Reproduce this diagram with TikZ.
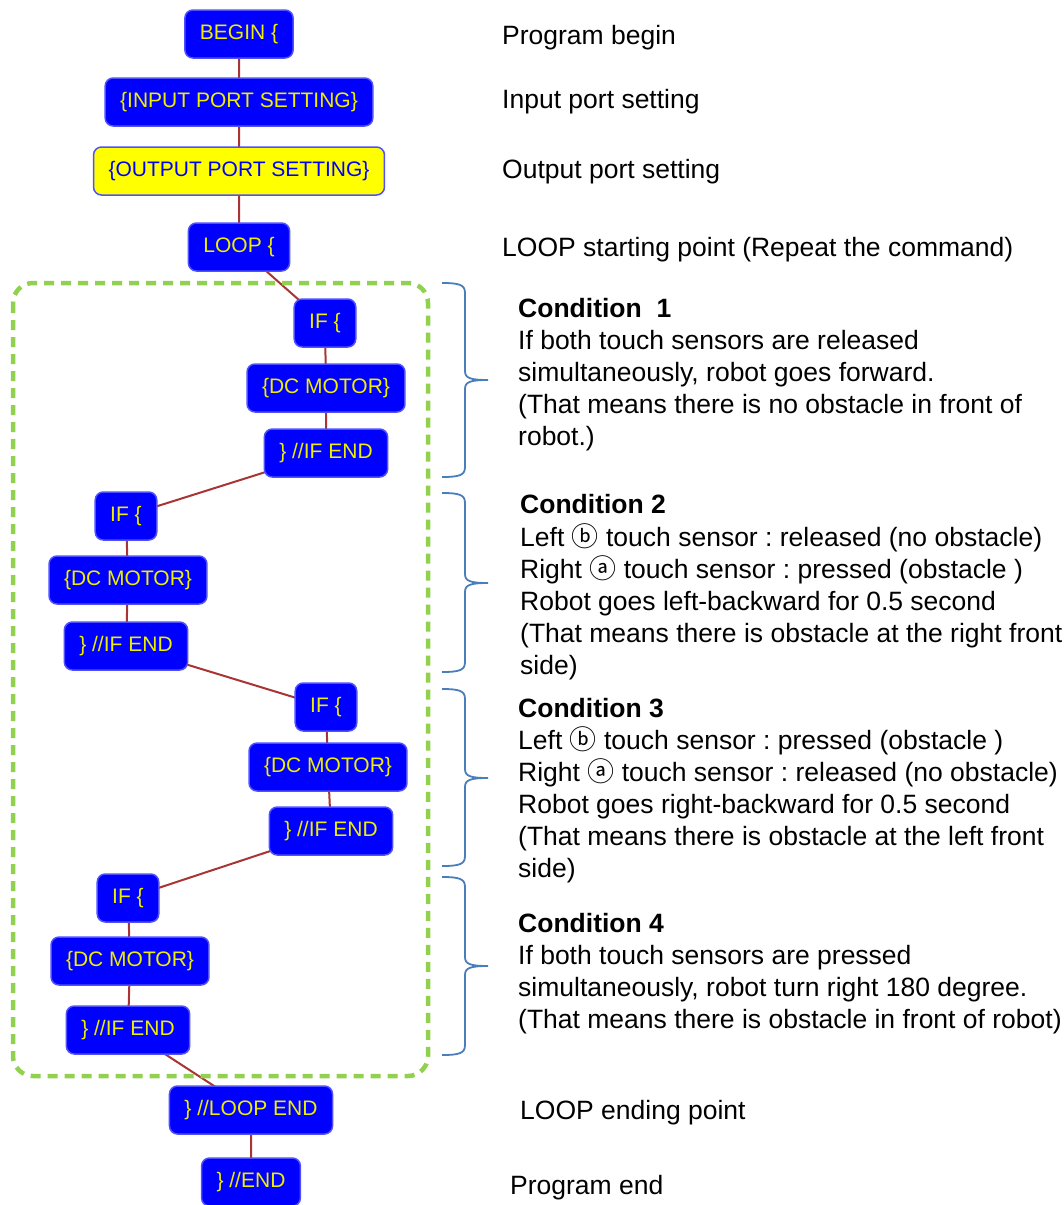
\documentclass[tikz,border=0pt]{standalone}
\usepackage{fontspec}
\setmainfont{Liberation Sans}
\newfontfamily\circfont{Noto Sans CJK JP}
\frenchspacing

\definecolor{boxblue}{RGB}{0,0,255}
\definecolor{boxedge}{RGB}{80,80,255}
\definecolor{codeyellow}{RGB}{238,238,0}
\definecolor{setyellow}{RGB}{255,255,0}
\definecolor{linkred}{RGB}{168,52,52}
\definecolor{loopgreen}{RGB}{146,208,80}
\definecolor{bracketblue}{RGB}{74,126,187}

\pgfdeclarelayer{bg}
\pgfsetlayers{bg,main}

\tikzset{
  block/.style={draw=boxedge, line width=1.5pt, fill=boxblue, rounded corners=8pt,
    text=codeyellow, font=\fontsize{21}{24}\selectfont,
    minimum height=48pt, inner xsep=15pt, inner ysep=0pt},
  setblock/.style={block, fill=setyellow, draw=boxedge, text=boxblue},
  link/.style={draw=linkred, line width=2pt},
  note/.style={anchor=base west, inner sep=0pt, font=\fontsize{26.5}{32}\selectfont},
  notehead/.style={note, font=\fontsize{26.5}{32}\selectfont\bfseries},
  bracket/.style={draw=bracketblue, line width=1.8pt},
  loopframe/.style={draw=loopgreen, line width=4.5pt, dash pattern=on 10pt off 7pt,
    rounded corners=20pt},
}
\newcommand{\circb}{{\circfont\fontsize{27}{32}\selectfont ⓑ}}
\newcommand{\circa}{{\circfont\fontsize{27}{32}\selectfont ⓐ}}

\begin{document}
\begin{tikzpicture}[x=1pt,y=-1pt]
\useasboundingbox (0,0) rectangle (1064,1205);

% program blocks
\node[block]    (begin)  at (239,34)   {BEGIN \{};
\node[block]    (inport) at (239,102)  {\{INPUT PORT SETTING\}};
\node[setblock] (outport) at (239,171) {\{OUTPUT PORT SETTING\}};
\node[block]    (loop)   at (239,247)  {LOOP \{};

\node[block] (if1)  at (325,323) {IF \{};
\node[block] (dc1)  at (326,388) {\{DC MOTOR\}};
\node[block] (end1) at (326,453) {\} //IF END};

\node[block] (if2)  at (126,516) {IF \{};
\node[block] (dc2)  at (128,580) {\{DC MOTOR\}};
\node[block] (end2) at (126,646) {\} //IF END};

\node[block] (if3)  at (326,707) {IF \{};
\node[block] (dc3)  at (328,767) {\{DC MOTOR\}};
\node[block] (end3) at (331,831) {\} //IF END};

\node[block] (if4)  at (128,898)  {IF \{};
\node[block] (dc4)  at (130,961)  {\{DC MOTOR\}};
\node[block] (end4) at (128,1030) {\} //IF END};

\node[block] (loopend) at (251,1110) {\} //LOOP END};
\node[block] (progend) at (251,1182) {\} //END};

% connectors behind the blocks, centre to centre
\begin{pgfonlayer}{bg}
  \draw[link] (begin.center) -- (inport.center) -- (outport.center)
              -- (loop.center) -- (if1.center);
  \draw[link] (if1.center) -- (dc1.center) -- (end1.center) -- (if2.center)
              -- (dc2.center) -- (end2.center) -- (if3.center)
              -- (dc3.center) -- (end3.center) -- (if4.center)
              -- (dc4.center) -- (end4.center) -- (loopend.center)
              -- (progend.center);
\end{pgfonlayer}

% frame round the loop body
\draw[loopframe] (13,283) rectangle (428,1076);

% brackets for the four conditions
\foreach \t/\m/\b in {283/380/477, 493/583/672, 689/778/866, 877/966/1055}{
  \draw[bracket] (442,\t) .. controls (460,\t) and (465,\t+2) .. (465,\t+10)
    -- (465,\m-9) .. controls (465,\m-2) and (470,\m) .. (488,\m)
    .. controls (470,\m) and (465,\m+2) .. (465,\m+9)
    -- (465,\b-10) .. controls (465,\b-2) and (460,\b) .. (442,\b);
}

% descriptions
\node[note] (t0) at (502,44)  {Program begin};
\node[note] (t1) at (502,108) {Input port setting};
\node[note] (t2) at (502,178) {Output port setting};
\node[note] (t3) at (502,256) {LOOP starting point (Repeat the command)};

\node[notehead] (c1h) at (518,317) {Condition\ \ 1};
\node[note] (c1a) at (518,349) {If both touch sensors are released};
\node[note] (c1b) at (518,381) {simultaneously, robot goes forward.};
\node[note] (c1c) at (518,413) {(That means there is no obstacle in front of};
\node[note] (c1d) at (518,445) {robot.)};

\node[notehead] (c2h) at (520,513) {Condition 2};
\node[note] (c2a) at (520,546) {Left \circb\ touch sensor : released (no obstacle)};
\node[note] (c2b) at (520,578) {Right \circa\ touch sensor : pressed (obstacle )};
\node[note] (c2c) at (520,610) {Robot goes left-backward for 0.5 second};
\node[note] (c2d) at (520,642) {(That means there is obstacle at the right front};
\node[note] (c2e) at (520,674) {side)};

\node[notehead] (c3h) at (518,717) {Condition 3};
\node[note] (c3a) at (518,749) {Left \circb\ touch sensor : pressed (obstacle )};
\node[note] (c3b) at (518,781) {Right \circa\ touch sensor : released (no obstacle)};
\node[note] (c3c) at (518,813) {Robot goes right-backward for 0.5 second};
\node[note] (c3d) at (518,845) {(That means there is obstacle at the left front};
\node[note] (c3e) at (518,877) {side)};

\node[notehead] (c4h) at (518,932) {Condition 4};
\node[note] (c4a) at (518,964) {If both touch sensors are pressed};
\node[note] (c4b) at (518,996) {simultaneously, robot turn right 180 degree.};
\node[note] (c4c) at (518,1028) {(That means there is obstacle in front of robot)};

\node[note] (t4) at (520,1119) {LOOP ending point};
\node[note] (t5) at (510,1194) {Program end};
\end{tikzpicture}
\end{document}
